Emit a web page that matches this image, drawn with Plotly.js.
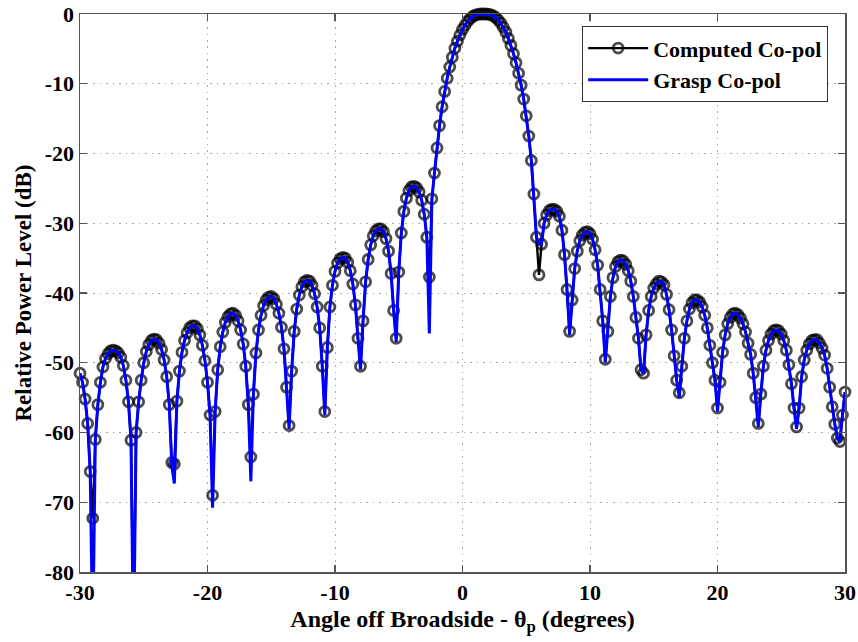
<!DOCTYPE html>
<html>
<head>
<meta charset="utf-8">
<script src="https://cdn.plot.ly/plotly-3.0.1.min.js"></script>
<style>html,body{margin:0;padding:0;background:#fff;}#chart{width:858px;height:642px;}</style>
</head>
<body>
<div id="chart"></div>
<script>
// Angle off broadside (degrees), sampled every 0.2 deg
const angle = [
-30,-29.8,-29.6,-29.4,-29.2,-29,-28.8,-28.6,-28.4,-28.2,
-28,-27.8,-27.6,-27.4,-27.2,-27,-26.8,-26.6,-26.4,-26.2,
-26,-25.8,-25.6,-25.4,-25.2,-25,-24.8,-24.6,-24.4,-24.2,
-24,-23.8,-23.6,-23.4,-23.2,-23,-22.8,-22.6,-22.4,-22.2,
-22,-21.8,-21.6,-21.4,-21.2,-21,-20.8,-20.6,-20.4,-20.2,
-20,-19.8,-19.6,-19.4,-19.2,-19,-18.8,-18.6,-18.4,-18.2,
-18,-17.8,-17.6,-17.4,-17.2,-17,-16.8,-16.6,-16.4,-16.2,
-16,-15.8,-15.6,-15.4,-15.2,-15,-14.8,-14.6,-14.4,-14.2,
-14,-13.8,-13.6,-13.4,-13.2,-13,-12.8,-12.6,-12.4,-12.2,
-12,-11.8,-11.6,-11.4,-11.2,-11,-10.8,-10.6,-10.4,-10.2,
-10,-9.8,-9.6,-9.4,-9.2,-9,-8.8,-8.6,-8.4,-8.2,
-8,-7.8,-7.6,-7.4,-7.2,-7,-6.8,-6.6,-6.4,-6.2,
-6,-5.8,-5.6,-5.4,-5.2,-5,-4.8,-4.6,-4.4,-4.2,
-4,-3.8,-3.6,-3.4,-3.2,-3,-2.8,-2.6,-2.4,-2.2,
-2,-1.8,-1.6,-1.4,-1.2,-1,-0.8,-0.6,-0.4,-0.2,
0,0.2,0.4,0.6,0.8,1,1.2,1.4,1.6,1.8,
2,2.2,2.4,2.6,2.8,3,3.2,3.4,3.6,3.8,
4,4.2,4.4,4.6,4.8,5,5.2,5.4,5.6,5.8,
6,6.2,6.4,6.6,6.8,7,7.2,7.4,7.6,7.8,
8,8.2,8.4,8.6,8.8,9,9.2,9.4,9.6,9.8,
10,10.2,10.4,10.6,10.8,11,11.2,11.4,11.6,11.8,
12,12.2,12.4,12.6,12.8,13,13.2,13.4,13.6,13.8,
14,14.2,14.4,14.6,14.8,15,15.2,15.4,15.6,15.8,
16,16.2,16.4,16.6,16.8,17,17.2,17.4,17.6,17.8,
18,18.2,18.4,18.6,18.8,19,19.2,19.4,19.6,19.8,
20,20.2,20.4,20.6,20.8,21,21.2,21.4,21.6,21.8,
22,22.2,22.4,22.6,22.8,23,23.2,23.4,23.6,23.8,
24,24.2,24.4,24.6,24.8,25,25.2,25.4,25.6,25.8,
26,26.2,26.4,26.6,26.8,27,27.2,27.4,27.6,27.8,
28,28.2,28.4,28.6,28.8,29,29.2,29.4,29.6,29.8,
30
];

// Computed Co-pol (dB)
const computedCoPol = [
-51.5,-52.8,-55.2,-58.7,-65.6,-72.3,-61.0,-56.0,-52.8,-50.6,
-49.4,-48.7,-48.3,-48.2,-48.3,-48.6,-49.2,-50.4,-52.5,-55.6,
-61.1,-88.0,-60.0,-55.6,-52.5,-50.0,-48.4,-47.4,-46.8,-46.6,
-46.7,-47.2,-48.1,-49.6,-52.0,-56.0,-64.3,-64.5,-55.5,-51.2,
-48.5,-46.8,-45.7,-45.0,-44.7,-44.7,-45.1,-46.0,-47.5,-49.7,
-52.8,-57.5,-69.0,-57.0,-51.0,-47.7,-45.6,-44.2,-43.4,-43.0,
-42.9,-43.2,-44.0,-45.3,-47.3,-50.5,-56.0,-63.5,-54.5,-48.6,
-45.3,-43.2,-41.8,-41.0,-40.6,-40.5,-40.8,-41.6,-42.9,-44.9,
-48.0,-53.5,-59.0,-51.2,-45.5,-42.3,-40.3,-39.1,-38.4,-38.2,
-38.3,-38.9,-40.1,-42.0,-45.0,-50.5,-57.0,-47.8,-42.0,-38.9,
-36.9,-35.7,-35.1,-34.9,-35.0,-35.6,-36.8,-38.7,-41.7,-46.5,
-50.5,-44.0,-38.4,-35.2,-33.1,-31.8,-31.1,-30.8,-30.8,-31.2,
-32.2,-34.0,-37.2,-42.5,-46.5,-37.0,-31.4,-28.3,-26.4,-25.3,
-24.8,-24.7,-24.9,-25.5,-26.7,-28.7,-32.0,-37.7,-26.5,-22.8,
-19.2,-16.0,-13.3,-11.1,-9.2,-7.6,-6.2,-4.9,-3.9,-3.0,
-2.2,-1.6,-1.05,-0.65,-0.35,-0.15,-0.05,0,0,0,
-0.03,-0.1,-0.25,-0.5,-0.85,-1.3,-1.9,-2.6,-3.5,-4.5,
-5.7,-7.0,-8.5,-10.2,-12.2,-14.6,-17.5,-21.0,-25.8,-32.0,
-37.4,-33.0,-30.0,-28.8,-28.2,-28.0,-28.0,-28.3,-29.0,-31.0,
-34.5,-39.5,-45.5,-41.0,-36.5,-34.0,-32.5,-31.7,-31.3,-31.2,
-31.5,-32.3,-33.8,-36.0,-39.5,-44.0,-49.5,-45.5,-40.5,-37.8,
-36.2,-35.5,-35.3,-35.4,-35.9,-36.8,-38.3,-40.5,-43.5,-46.5,
-51.0,-51.5,-46.0,-42.5,-40.5,-39.3,-38.7,-38.3,-38.4,-38.8,
-40.2,-42.4,-45.3,-49.0,-52.5,-54.3,-50.5,-46.5,-44.0,-42.3,
-41.4,-41.0,-41.0,-41.3,-42.0,-43.2,-45.0,-47.5,-50.0,-52.5,
-56.5,-52.8,-48.5,-46.0,-44.4,-43.5,-43.0,-42.9,-43.1,-43.6,
-44.4,-45.6,-47.2,-48.8,-51.5,-55.0,-58.7,-54.5,-50.5,-48.2,
-46.8,-45.9,-45.4,-45.3,-45.4,-45.9,-46.8,-48.2,-50.3,-53.0,
-56.5,-59.2,-56.5,-52.0,-49.6,-48.2,-47.3,-46.8,-46.7,-46.7,
-47.2,-47.9,-48.9,-50.8,-53.5,-56.3,-58.8,-60.8,-61.3,-57.5,
-54.2
];

// Grasp Co-pol (dB)
const graspCoPol = [
-51.5,-52.8,-55.2,-58.7,-65.6,-90.0,-61.0,-56.0,-52.8,-50.6,
-49.4,-48.7,-48.3,-48.2,-48.3,-48.6,-49.2,-50.4,-52.5,-55.6,
-61.1,-92.0,-60.0,-55.6,-52.5,-50.0,-48.4,-47.4,-46.8,-46.6,
-46.7,-47.2,-48.1,-49.6,-52.0,-56.0,-64.8,-67.3,-55.5,-51.2,
-48.5,-46.8,-45.7,-45.0,-44.7,-44.7,-45.1,-46.0,-47.5,-49.7,
-52.8,-57.5,-70.8,-57.0,-51.0,-47.7,-45.6,-44.2,-43.4,-43.0,
-42.9,-43.2,-44.0,-45.3,-47.3,-50.5,-56.0,-67.0,-54.5,-48.6,
-45.3,-43.2,-41.8,-41.0,-40.6,-40.5,-40.8,-41.6,-42.9,-44.9,
-48.0,-53.5,-59.5,-51.2,-45.5,-42.3,-40.3,-39.1,-38.4,-38.2,
-38.3,-38.9,-40.1,-42.0,-45.0,-50.5,-57.5,-47.8,-42.0,-38.9,
-36.9,-35.7,-35.1,-34.9,-35.0,-35.6,-36.8,-38.7,-41.7,-46.5,
-51.0,-44.0,-38.4,-35.2,-33.1,-31.8,-31.1,-30.8,-30.8,-31.2,
-32.2,-34.0,-37.2,-42.5,-47.0,-37.0,-31.4,-28.3,-26.4,-25.3,
-24.8,-24.7,-24.9,-25.5,-26.7,-28.7,-32.0,-45.8,-26.5,-22.8,
-19.2,-16.0,-13.3,-11.1,-9.2,-7.6,-6.2,-4.9,-3.9,-3.0,
-2.2,-1.6,-1.05,-0.65,-0.35,-0.15,-0.05,0,0,0,
-0.03,-0.1,-0.25,-0.5,-0.85,-1.3,-1.9,-2.6,-3.5,-4.5,
-5.7,-7.0,-8.5,-10.2,-12.2,-14.6,-17.5,-21.0,-25.8,-32.0,
-33.0,-33.0,-30.0,-28.8,-28.2,-28.0,-28.0,-28.3,-29.0,-31.0,
-34.5,-39.5,-46.0,-41.0,-36.5,-34.0,-32.5,-31.7,-31.3,-31.2,
-31.5,-32.3,-33.8,-36.0,-39.5,-44.0,-50.0,-45.5,-40.5,-37.8,
-36.2,-35.5,-35.3,-35.4,-35.9,-36.8,-38.3,-40.5,-43.5,-46.5,
-51.0,-51.5,-46.0,-42.5,-40.5,-39.3,-38.7,-38.3,-38.4,-38.8,
-40.2,-42.4,-45.3,-49.0,-52.5,-55.0,-50.5,-46.5,-44.0,-42.3,
-41.4,-41.0,-41.0,-41.3,-42.0,-43.2,-45.0,-47.5,-50.0,-52.5,
-57.0,-52.8,-48.5,-46.0,-44.4,-43.5,-43.0,-42.9,-43.1,-43.6,
-44.4,-45.6,-47.2,-48.8,-51.5,-55.0,-59.2,-54.5,-50.5,-48.2,
-46.8,-45.9,-45.4,-45.3,-45.4,-45.9,-46.8,-48.2,-50.3,-53.0,
-56.5,-59.5,-56.5,-52.0,-49.6,-48.2,-47.3,-46.8,-46.7,-46.7,
-47.2,-47.9,-48.9,-50.8,-53.5,-56.3,-58.8,-60.8,-61.3,-57.5,
-54.2
];

const seriesNames = ['Computed Co-pol', 'Grasp Co-pol'];
const xTicks = [-30, -20, -10, 0, 10, 20, 30];
const yTicks = [-80, -70, -60, -50, -40, -30, -20, -10, 0];

const FONT = 'Liberation Serif, Times New Roman, serif';
const yMin = -80, yMax = 0;
// hide markers that fall outside the visible range (markers are not clipped)
const markerSizes = computedCoPol.map(v => (v < yMin ? 0 : 10));

const traces = [
  {
    x: angle, y: computedCoPol, name: seriesNames[0], type: 'scatter', mode: 'lines+markers',
    line: {color: '#000000', width: 2.4},
    marker: {symbol: 'circle-open', size: markerSizes, color: '#000000', line: {width: 2.8, color: '#000000'}},
    cliponaxis: false
  },
  {
    x: angle, y: graspCoPol, name: seriesNames[1], type: 'scatter', mode: 'lines',
    line: {color: '#0000ff', width: 3}
  }
];

const axisCommon = {
  showline: true, linecolor: '#555555', linewidth: 1.5, mirror: 'ticks',
  ticks: 'inside', ticklen: 7, tickwidth: 1.2, tickcolor: '#555555',
  showgrid: true, gridcolor: '#a8a8a8', griddash: '1.5px,5px', gridwidth: 1,
  zeroline: false,
  tickfont: {family: FONT, size: 22, color: '#000', weight: 'bold'}
};

const layout = {
  width: 858, height: 642,
  margin: {l: 80, r: 13, t: 14, b: 70},
  paper_bgcolor: '#ffffff', plot_bgcolor: '#ffffff',
  showlegend: true,
  legend: {
    x: 0.978, y: 0.978, xanchor: 'right', yanchor: 'top',
    bgcolor: '#ffffff', bordercolor: '#333333', borderwidth: 1,
    font: {family: FONT, size: 22, color: '#000', weight: 'bold'},
    itemwidth: 60, tracegroupgap: 0
  },
  xaxis: Object.assign({}, axisCommon, {
    range: [-30, 30], tickmode: 'array', tickvals: xTicks, ticktext: xTicks.map(String),
    title: {text: 'Angle off Broadside - θ<sub>p</sub> (degrees)', font: {family: FONT, size: 24, color: '#000', weight: 'bold'}, standoff: 6}
  }),
  yaxis: Object.assign({}, axisCommon, {
    range: [yMin, yMax], tickmode: 'array', tickvals: yTicks, ticktext: yTicks.map(String),
    title: {text: 'Relative Power Level (dB)', font: {family: FONT, size: 23, color: '#000', weight: 'bold'}, standoff: 6}
  })
};

Plotly.newPlot('chart', traces, layout, {staticPlot: true, displayModeBar: false});
</script>
</body>
</html>
